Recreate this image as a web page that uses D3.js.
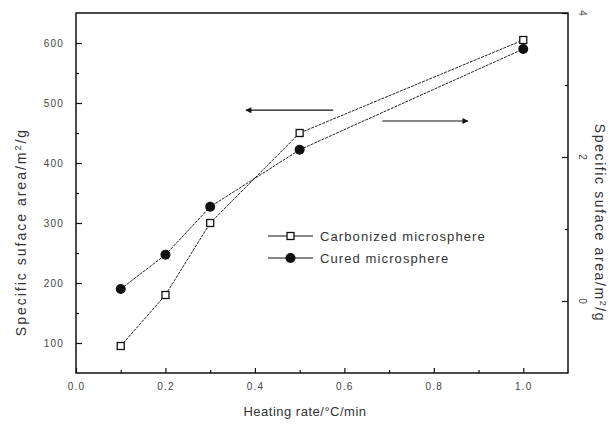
<!DOCTYPE html>
<html>
<head>
<meta charset="utf-8">
<script src="https://cdn.jsdelivr.net/npm/d3@7"></script>
<style>
  body { margin: 0; background: #fff; }
  svg text { font-family: "Liberation Sans", Arial, sans-serif; fill: #333; }
</style>
</head>
<body>
<div id="chart"></div>
<script>
// data
var rates = [0.1, 0.2, 0.3, 0.5, 1.0];
var carbonized = [95, 180, 300, 450, 605];
var cured = [190, 247, 327, 422, 590];
var xTicks = [0.0, 0.2, 0.4, 0.6, 0.8, 1.0];
var xMinor = [0.1, 0.3, 0.5, 0.7, 0.9];
var leftTicks = [100, 200, 300, 400, 500, 600];
var leftMinor = [150, 250, 350, 450, 550];
var rightTicks = [0, 2, 4];
var rightMinor = [1, 3];
var seriesNames = ["Carbonized microsphere", "Cured microsphere"];

var W = 610, H = 429;
var m = {left: 76, right: 42, top: 13, bottom: 56};

var svg = d3.select("#chart").append("svg")
    .attr("width", W)
    .attr("height", H);

var x = d3.scaleLinear().domain([0, 1.1]).range([m.left, W - m.right]);
var yL = d3.scaleLinear().domain([50, 650]).range([H - m.bottom, m.top]);
var yR = d3.scaleLinear().domain([-1, 4]).range([H - m.bottom, m.top]);

//axes, ticks all point inward
var xAxis = svg.append("g")
    .attr("transform", "translate(0," + (H - m.bottom) + ")")
    .call(d3.axisBottom(x).tickValues(xTicks).tickFormat(d3.format(".1f"))
        .tickSizeInner(-5).tickSizeOuter(0).tickPadding(10));
svg.append("g")
    .attr("transform", "translate(0," + (H - m.bottom) + ")")
    .call(d3.axisBottom(x).tickValues(xMinor).tickFormat("")
        .tickSizeInner(-3).tickSizeOuter(0));

var leftAxis = svg.append("g")
    .attr("transform", "translate(" + m.left + ",0)")
    .call(d3.axisLeft(yL).tickValues(leftTicks).tickFormat(d3.format("d"))
        .tickSizeInner(-6).tickSizeOuter(0).tickPadding(12));
svg.append("g")
    .attr("transform", "translate(" + m.left + ",0)")
    .call(d3.axisLeft(yL).tickValues(leftMinor).tickFormat("")
        .tickSizeInner(-3).tickSizeOuter(0));

var rightAxis = svg.append("g")
    .attr("transform", "translate(" + (W - m.right) + ",0)")
    .call(d3.axisRight(yR).tickValues(rightTicks).tickFormat(d3.format("d"))
        .tickSizeInner(-6).tickSizeOuter(0).tickPadding(12));
svg.append("g")
    .attr("transform", "translate(" + (W - m.right) + ",0)")
    .call(d3.axisRight(yR).tickValues(rightMinor).tickFormat("")
        .tickSizeInner(-3).tickSizeOuter(0));

svg.selectAll(".domain").remove();
svg.selectAll(".tick line").attr("stroke", "#111").attr("stroke-width", 1.2);
svg.selectAll(".tick text")
    .attr("font-size", 10)
    .attr("letter-spacing", 1.2)
    .style("fill", "#444");

// right labels are turned sideways
rightAxis.selectAll(".tick text")
    .attr("text-anchor", "middle")
    .attr("x", 0).attr("dy", 0)
    .attr("transform", "translate(11,0) rotate(90)");

// frame
svg.append("rect")
    .attr("x", m.left)
    .attr("y", m.top)
    .attr("width", W - m.left - m.right)
    .attr("height", H - m.top - m.bottom)
    .attr("fill", "none")
    .attr("stroke", "#111")
    .attr("stroke-width", 1.5);

// axis titles
var titleHtml = "Specific suface area/m<tspan dy='-5' font-size='9'>2</tspan><tspan dy='5'>/g</tspan>";
svg.append("text")
    .attr("transform", "translate(26,232) rotate(-90)")
    .attr("text-anchor", "middle")
    .attr("font-size", 14)
    .attr("letter-spacing", 2)
    .html(titleHtml);

svg.append("text")
    .attr("transform", "translate(595,223) rotate(90)")
    .attr("text-anchor", "middle")
    .attr("font-size", 14)
    .attr("letter-spacing", 1.6)
    .html(titleHtml);

svg.append("text")
    .attr("x", 305)
    .attr("y", 416)
    .attr("text-anchor", "middle")
    .attr("font-size", 13)
    .attr("letter-spacing", 0.5)
    .text("Heating rate/\u00B0C/min");

// lines
var line = d3.line()
    .x(function(d){ return x(d[0]); })
    .y(function(d){ return yL(d[1]); });

var carbData = d3.zip(rates, carbonized);
var curedData = d3.zip(rates, cured);

svg.append("path").datum(carbData)
    .attr("d", line)
    .attr("fill", "none")
    .attr("stroke", "#222")
    .attr("stroke-width", 1)
    .attr("stroke-dasharray", "3,1");
svg.append("path").datum(curedData)
    .attr("d", line)
    .attr("fill", "none")
    .attr("stroke", "#222")
    .attr("stroke-width", 1)
    .attr("stroke-dasharray", "3,1");

// markers
svg.selectAll(".sq").data(carbData).enter().append("rect")
    .attr("x", function(d){ return x(d[0]) - 3.5; })
    .attr("y", function(d){ return yL(d[1]) - 3.5; })
    .attr("width", 7)
    .attr("height", 7)
    .attr("fill", "#fff")
    .attr("stroke", "#111")
    .attr("stroke-width", 1.3);

svg.selectAll(".dot").data(curedData).enter().append("circle")
    .attr("cx", function(d){ return x(d[0]); })
    .attr("cy", function(d){ return yL(d[1]); })
    .attr("r", 5)
    .attr("fill", "#111");

// arrows pointing to the axes
svg.append("defs").append("marker")
    .attr("id", "head")
    .attr("viewBox", "0 0 10 10")
    .attr("refX", 9).attr("refY", 5)
    .attr("markerWidth", 6).attr("markerHeight", 5)
    .attr("orient", "auto")
  .append("path")
    .attr("d", "M0,0L10,5L0,10Z")
    .attr("fill", "#111");

svg.append("line")
    .attr("x1", x(0.575)).attr("y1", yL(488))
    .attr("x2", x(0.38)).attr("y2", yL(488))
    .attr("stroke", "#111").attr("stroke-width", 1.2)
    .attr("marker-end", "url(#head)");
svg.append("line")
    .attr("x1", x(0.685)).attr("y1", yR(2.5))
    .attr("x2", x(0.876)).attr("y2", yR(2.5))
    .attr("stroke", "#111").attr("stroke-width", 1.2)
    .attr("marker-end", "url(#head)");

// legend
var leg = svg.append("g").attr("transform", "translate(268,236)");
[0, 1].forEach(function(i){
    var g = leg.append("g").attr("transform", "translate(0," + (i * 22) + ")");
    g.append("line")
        .attr("x1", 0).attr("x2", 45)
        .attr("y1", 0).attr("y2", 0)
        .attr("stroke", "#111").attr("stroke-width", 1.2);
    if (i == 0) {
        g.append("rect")
            .attr("x", 19).attr("y", -3.5)
            .attr("width", 7).attr("height", 7)
            .attr("fill", "#fff").attr("stroke", "#111").attr("stroke-width", 1.3);
    } else {
        g.append("circle")
            .attr("cx", 22.5).attr("cy", 0).attr("r", 5)
            .attr("fill", "#111");
    }
    g.append("text")
        .attr("x", 52).attr("y", 0).attr("dy", "0.35em")
        .attr("font-size", 13)
        .attr("letter-spacing", 1.1)
        .text(seriesNames[i]);
});
</script>
</body>
</html>
